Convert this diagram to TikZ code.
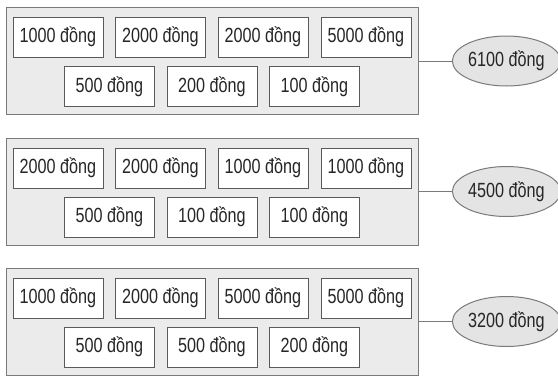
\documentclass[tikz,border=0pt]{standalone}
\usepackage{fontspec}
\setmainfont{Liberation Sans}[FakeStretch=0.79]
\usetikzlibrary{shapes.geometric}
\definecolor{panelfill}{HTML}{EBEBEB}
\definecolor{panelline}{HTML}{7A7A7A}
\definecolor{boxline}{HTML}{5A5A5A}
\definecolor{ellfill}{HTML}{E4E4E4}
\definecolor{txt}{HTML}{262626}
\tikzset{
  panel/.style={draw=panelline, fill=panelfill, line width=1pt, minimum width=412pt, minimum height=107pt, inner sep=0pt},
  coin/.style={draw=boxline, fill=white, line width=1pt, minimum width=90pt, minimum height=40pt, inner sep=0pt, text=txt, font=\fontsize{20.5}{23}\selectfont},
  total/.style={ellipse, draw=panelline, fill=ellfill, line width=1pt, minimum width=100pt, minimum height=50pt, inner sep=0pt, text=txt, font=\fontsize{20.5}{23}\selectfont},
  link/.style={draw=panelline, line width=1pt}
}
\begin{document}
\begin{tikzpicture}[x=1pt,y=-1pt]
\useasboundingbox (0,0) rectangle (558,381);
% panel 1 (top = 7)
\node[panel] (p1) at (212,61) {};
\node[coin] (a1) at (58,37) {1000 đồng};
\node[coin] (a2) at (160.5,37) {2000 đồng};
\node[coin] (a3) at (263,37) {2000 đồng};
\node[coin] (a4) at (366,37) {5000 đồng};
\node[coin] (a5) at (109.5,86.5) {500 đồng};
\node[coin] (a6) at (212,86.5) {200 đồng};
\node[coin] (a7) at (314.5,86.5) {100 đồng};
\node[total] (e1) at (506.5,61) {6100 đồng};
\draw[link] (p1.east) -- (e1.west);
% panel 2 (top = 138)
\node[panel] (p2) at (212,191.5) {};
\node[coin] (b1) at (58,168) {2000 đồng};
\node[coin] (b2) at (160.5,168) {2000 đồng};
\node[coin] (b3) at (263,168) {1000 đồng};
\node[coin] (b4) at (366,168) {1000 đồng};
\node[coin] (b5) at (109.5,217) {500 đồng};
\node[coin] (b6) at (212,217) {100 đồng};
\node[coin] (b7) at (314.5,217) {100 đồng};
\node[total] (e2) at (506.5,191.5) {4500 đồng};
\draw[link] (p2.east) -- (e2.west);
% panel 3 (top = 268)
\node[panel] (p3) at (212,321.5) {};
\node[coin] (c1) at (58,298) {1000 đồng};
\node[coin] (c2) at (160.5,298) {2000 đồng};
\node[coin] (c3) at (263,298) {5000 đồng};
\node[coin] (c4) at (366,298) {5000 đồng};
\node[coin] (c5) at (109.5,347) {500 đồng};
\node[coin] (c6) at (212,347) {500 đồng};
\node[coin] (c7) at (314.5,347) {200 đồng};
\node[total] (e3) at (506.5,321.5) {3200 đồng};
\draw[link] (p3.east) -- (e3.west);
\end{tikzpicture}
\end{document}
